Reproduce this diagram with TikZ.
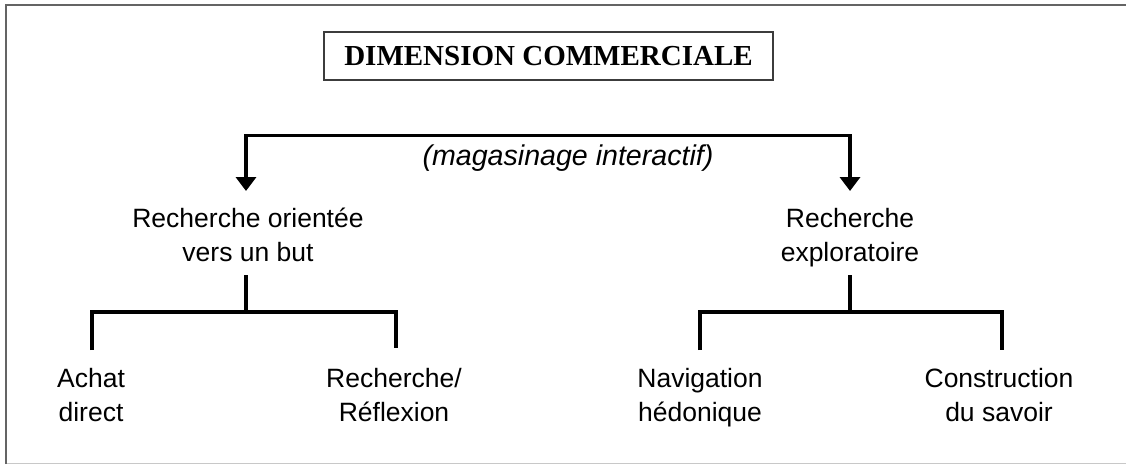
\documentclass[tikz,border=0pt]{standalone}
\usepackage{fontspec}
\setmainfont{Liberation Sans}
\newfontfamily\titlefont{Liberation Serif}
\usetikzlibrary{arrows.meta}
\definecolor{framegray}{RGB}{100,100,100}
\definecolor{faintgray}{RGB}{200,200,200}
\definecolor{boxgray}{RGB}{60,60,60}
\begin{document}
\begin{tikzpicture}[x=1pt,y=-1pt,
  every node/.style={inner sep=0pt, outer sep=0pt},
  frameline/.style={draw=framegray, line width=2pt},
  titlebox/.style={draw=boxgray, line width=1.3pt, minimum width=449pt, minimum height=48pt,
    font=\titlefont\bfseries\fontsize{29}{34}\selectfont},
  lbl/.style={align=center, font=\fontsize{26.5}{34}\selectfont},
  note/.style={font=\itshape\fontsize{28.6}{34}\selectfont},
  link/.style={draw=black, line width=3.5pt},
  tip/.style={link, {Triangle[width=20pt,length=14pt]}-{Triangle[width=20pt,length=14pt]}}
]
\useasboundingbox (0,0) rectangle (1126,464);
% outer frame, running off the right and bottom edges
\draw[faintgray, line width=1pt] (6,463.5) -- (1126,463.5);
\draw[frameline] (6,464) -- (6,5) -- (1126,5);

% title
\node[titlebox] (title) at (548.5,56) {DIMENSION COMMERCIALE};

% first level
\node[note] (mag) at (568,158) {(magasinage interactif)};
\node[lbl] (ro) at (248,235) {Recherche orientée\\vers un but};
\node[lbl] (re) at (850,238) {Recherche\\exploratoire};

% leaves
\node[lbl] (achat)  at (91,395.5)  {Achat\\direct};
\node[lbl] (reflex) at (394,395.5) {Recherche/\\Réflexion};
\node[lbl] (nav)    at (700,398) {Navigation\\hédonique};
\node[lbl] (cons)   at (999,395.5) {Construction\\du savoir};

% branch points
\coordinate (ro-in)  at (246,191);
\coordinate (re-in)  at (850,191);
\coordinate (top-l)  at (246,135.5);
\coordinate (top-r)  at (850,135.5);

\coordinate (ro-out) at (246,275);
\coordinate (ro-j)   at (246,312);
\coordinate (achat-j) at (92,312);
\coordinate (achat-in) at (92,350);
\coordinate (reflex-j) at (396,312);
\coordinate (reflex-in) at (396,348);

\coordinate (re-out) at (850,275);
\coordinate (re-j)   at (850,312);
\coordinate (nav-j)  at (700,312);
\coordinate (nav-in) at (700,350);
\coordinate (cons-j) at (1002,312);
\coordinate (cons-in) at (1002,350);

% connectors
\draw[tip, line join=miter] (ro-in) -- (top-l) -- (top-r) -- (re-in);

\draw[link] (ro-out) -- (ro-j);
\draw[link, line join=miter] (achat-in) -- (achat-j) -- (reflex-j) -- (reflex-in);

\draw[link] (re-out) -- (re-j);
\draw[link, line join=miter] (nav-in) -- (nav-j) -- (cons-j) -- (cons-in);
\end{tikzpicture}
\end{document}
